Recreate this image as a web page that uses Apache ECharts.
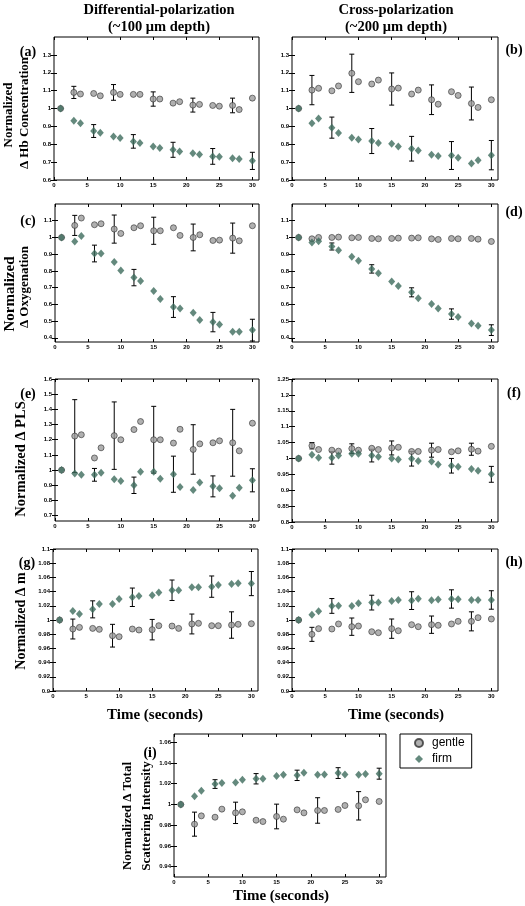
<!DOCTYPE html>
<html><head><meta charset="utf-8">
<script src="https://cdn.jsdelivr.net/npm/echarts@6/dist/echarts.min.js"></script>
<style>html,body{margin:0;padding:0;background:#fff}#c{width:525px;height:906px}</style>
</head><body><div id="c"></div>
<script>
// ---------- data ----------
const timeSec = [1,3,4,6,7,9,10,12,13,15,16,18,19,21,22,24,25,27,28,30];
const errTimeGentle = [3,9,15,21,27];
const errTimeFirm = [6,12,18,24,30];
const xTicks = [0,5,10,15,20,25,30];

// (a) Differential-polarization, Hb concentration
const gentleA = [1.0,1.09,1.081,1.084,1.071,1.09,1.079,1.079,1.079,1.053,1.053,1.03,1.038,1.019,1.023,1.017,1.013,1.017,0.994,1.058];
const firmA = [1.0,0.931,0.917,0.874,0.865,0.844,0.835,0.816,0.807,0.788,0.779,0.769,0.76,0.749,0.743,0.732,0.73,0.722,0.717,0.707];
const errGentleA = [0.034,0.044,0.04,0.039,0.041];
const errFirmA = [0.036,0.038,0.042,0.044,0.048];
// (b) Cross-polarization, Hb concentration
const gentleB = [1.0,1.103,1.113,1.099,1.126,1.197,1.15,1.137,1.159,1.109,1.114,1.081,1.103,1.049,1.024,1.094,1.073,1.028,1.006,1.049];
const firmB = [1.0,0.917,0.944,0.893,0.863,0.837,0.826,0.818,0.807,0.803,0.788,0.775,0.765,0.741,0.734,0.737,0.724,0.692,0.711,0.739];
const errGentleB = [0.082,0.107,0.09,0.083,0.092];
const errFirmB = [0.059,0.07,0.069,0.078,0.082];
// (c) Differential-polarization, oxygenation
const gentleC = [1.0,1.072,1.116,1.076,1.082,1.05,1.024,1.058,1.07,1.04,1.04,1.058,1.012,1.0,1.016,0.982,0.984,0.996,0.98,1.07];
const firmC = [1.0,0.976,1.008,0.904,0.904,0.854,0.802,0.76,0.74,0.68,0.632,0.584,0.576,0.55,0.506,0.494,0.48,0.436,0.436,0.446];
const errGentleC = [0.06,0.084,0.081,0.08,0.09];
const errFirmC = [0.05,0.049,0.062,0.058,0.065];
// (d) Cross-polarization, oxygenation
const gentleD = [1.0,0.992,1.0,1.0,1.002,0.998,1.0,0.994,0.992,0.994,0.996,0.996,0.998,0.992,0.988,0.994,0.992,0.994,0.99,0.976];
const firmD = [1.0,0.97,0.978,0.946,0.924,0.884,0.86,0.812,0.786,0.736,0.71,0.672,0.636,0.602,0.576,0.542,0.524,0.486,0.472,0.446];
const errGentleD = [];
const errFirmD = [0.021,0.025,0.027,0.031,0.032];
// (e) Differential-polarization, PLS
const gentleE = [1.0,1.224,1.233,1.08,1.147,1.227,1.2,1.267,1.32,1.2,1.2,1.178,1.269,1.136,1.173,1.18,1.193,1.18,1.127,1.309];
const firmE = [1.0,0.978,0.969,0.969,0.982,0.94,0.929,0.9,0.989,0.989,0.944,0.973,0.889,0.869,0.918,0.893,0.88,0.831,0.884,0.933];
const errGentleE = [0.24,0.222,0.22,0.163,0.22];
const errFirmE = [0.042,0.054,0.119,0.069,0.076];
// (f) Cross-polarization, PLS
const gentleF = [1.0,1.04,1.028,1.026,1.023,1.031,1.026,1.032,1.028,1.033,1.035,1.022,1.022,1.026,1.028,1.021,1.024,1.029,1.023,1.038];
const firmF = [1.0,1.012,1.002,1.002,1.009,1.015,1.015,1.009,1.005,1.0,0.997,0.999,0.992,0.99,0.981,0.977,0.974,0.967,0.961,0.95];
const errGentleF = [0.01,0.015,0.022,0.022,0.019];
const errFirmF = [0.02,0.02,0.023,0.023,0.025];
// (g) Differential-polarization, m
const gentleG = [1.0,0.9873,0.9896,0.9882,0.9868,0.9779,0.9765,0.9873,0.9859,0.9864,0.992,0.9915,0.9882,0.9944,0.9953,0.992,0.992,0.9929,0.9939,0.9948];
const firmG = [1.0,1.0127,1.0085,1.015,1.0226,1.0226,1.0296,1.032,1.0339,1.0348,1.0386,1.0419,1.0419,1.0461,1.0461,1.047,1.0494,1.0508,1.0518,1.0513];
const errGentleG = [0.014,0.016,0.0144,0.014,0.0186];
const errFirmG = [0.012,0.013,0.0144,0.015,0.017];
// (h) Cross-polarization, m
const gentleH = [1.0,0.9798,0.9878,0.9873,0.9944,0.9906,0.9915,0.9835,0.9821,0.9878,0.9849,0.9934,0.9906,0.9934,0.9925,0.9944,0.9981,0.9981,1.0033,1.0014];
const firmH = [1.0,1.0075,1.0122,1.0198,1.0202,1.0198,1.0235,1.0245,1.0245,1.0268,1.0282,1.0273,1.0301,1.0278,1.0287,1.0296,1.0292,1.0282,1.0282,1.0282];
const errGentleH = [0.0099,0.0122,0.0136,0.0122,0.0134];
const errFirmH = [0.0104,0.0104,0.0125,0.0129,0.013];
// (i) Total scattering intensity
const gentleI = [1.0,0.981,0.989,0.9877,0.9955,0.9919,0.9929,0.9848,0.9835,0.9884,0.9858,0.9948,0.9919,0.9942,0.9942,0.9952,0.999,0.9987,1.0045,1.0029];
const firmI = [1.0,1.008,1.0132,1.0197,1.0206,1.0213,1.0239,1.0248,1.0248,1.0274,1.0287,1.0281,1.0306,1.0287,1.029,1.0303,1.029,1.0287,1.0294,1.0297];
const errGentleI = [0.0116,0.0103,0.0119,0.0123,0.0137];
const errFirmI = [0.0042,0.005,0.005,0.0052,0.0053];

const yTicksAB = [0.6,0.7,0.8,0.9,1,1.1,1.2,1.3];
const yTicksCD = [0.4,0.5,0.6,0.7,0.8,0.9,1,1.1];
const yTicksE = [0.7,0.8,0.9,1,1.1,1.2,1.3,1.4,1.5,1.6];
const yTicksF = [0.8,0.85,0.9,0.95,1,1.05,1.1,1.15,1.2,1.25];
const yTicksGH = [0.9,0.92,0.94,0.96,0.98,1,1.02,1.04,1.06,1.08,1.1];
const yTicksI = [0.94,0.96,0.98,1,1.02,1.04,1.06];

// ---------- layout ----------
const panels = [
  {left:54, top:37, width:205, height:143, min:0.6, max:1.4, ticks:yTicksAB, g:gentleA, f:firmA, eg:errGentleA, ef:errFirmA},
  {left:292, top:37, width:206, height:143, min:0.6, max:1.4, ticks:yTicksAB, g:gentleB, f:firmB, eg:errGentleB, ef:errFirmB},
  {left:55, top:204, width:204, height:138, min:0.375, max:1.2, ticks:yTicksCD, g:gentleC, f:firmC, eg:errGentleC, ef:errFirmC},
  {left:292, top:204, width:206, height:138, min:0.375, max:1.2, ticks:yTicksCD, g:gentleD, f:firmD, eg:errGentleD, ef:errFirmD},
  {left:55, top:379, width:204, height:142, min:0.665, max:1.6, ticks:yTicksE, g:gentleE, f:firmE, eg:errGentleE, ef:errFirmE},
  {left:292, top:379, width:206, height:143, min:0.8, max:1.25, ticks:yTicksF, g:gentleF, f:firmF, eg:errGentleF, ef:errFirmF},
  {left:53, top:549, width:205, height:142, min:0.9, max:1.1, ticks:yTicksGH, g:gentleG, f:firmG, eg:errGentleG, ef:errFirmG},
  {left:292, top:549, width:206, height:142, min:0.9, max:1.1, ticks:yTicksGH, g:gentleH, f:firmH, eg:errGentleH, ef:errFirmH},
  {left:174, top:734, width:212, height:143, min:0.93, max:1.068, ticks:yTicksI, g:gentleI, f:firmI, eg:errGentleI, ef:errFirmI}
];

const GRAY = '#9c9c9c', GREEN = '#3d6b5c';
const fmt = v => String(parseFloat(Number(v).toFixed(3)));
const tickStyle = {show:true, inside:true, length:3, lineStyle:{color:'#000', width:1}};
const labelFont = {fontSize:6, fontFamily:'Liberation Sans', fontWeight:'bold', color:'#000'};

function errData(times, errs, vals){
  return times.slice(0, errs.length).map((t,i) => [t, vals[timeSec.indexOf(t)], errs[i]]);
}
function renderErr(params, api){
  const x = api.value(0), y = api.value(1), e = api.value(2);
  const p1 = api.coord([x, y + e]), p2 = api.coord([x, y - e]);
  const c = 2.5, st = {stroke:'#000', lineWidth:1};
  return {type:'group', children:[
    {type:'line', shape:{x1:p1[0], y1:p1[1], x2:p2[0], y2:p2[1]}, style:st},
    {type:'line', shape:{x1:p1[0]-c, y1:p1[1], x2:p1[0]+c, y2:p1[1]}, style:st},
    {type:'line', shape:{x1:p2[0]-c, y1:p2[1], x2:p2[0]+c, y2:p2[1]}, style:st}
  ]};
}

const grid = [], xAxis = [], yAxis = [], series = [];
panels.forEach((p, i) => {
  grid.push({left:p.left, top:p.top, width:p.width, height:p.height, show:true, borderColor:'#000', borderWidth:1, backgroundColor:'transparent'});
  xAxis.push({type:'value', gridIndex:i, min:0, max:31, position:'bottom', axisLine:{show:false}, splitLine:{show:false},
    axisTick:Object.assign({customValues:xTicks}, tickStyle),
    axisLabel:Object.assign({customValues:xTicks, margin:2, formatter:fmt}, labelFont)});
  xAxis.push({type:'value', gridIndex:i, min:0, max:31, position:'top', axisLine:{show:false}, splitLine:{show:false},
    axisTick:Object.assign({customValues:xTicks}, tickStyle), axisLabel:{show:false}});
  yAxis.push({type:'value', gridIndex:i, min:p.min, max:p.max, position:'left', axisLine:{show:false}, splitLine:{show:false},
    axisTick:Object.assign({customValues:p.ticks}, tickStyle),
    axisLabel:Object.assign({customValues:p.ticks, margin:3, formatter:fmt}, labelFont)});
  yAxis.push({type:'value', gridIndex:i, min:p.min, max:p.max, position:'right', axisLine:{show:false}, splitLine:{show:false},
    axisTick:Object.assign({customValues:p.ticks}, tickStyle), axisLabel:{show:false}});
  const xi = i*2, yi = i*2;
  if (p.eg.length) series.push({type:'custom', xAxisIndex:xi, yAxisIndex:yi, renderItem:renderErr, data:errData(errTimeGentle, p.eg, p.g), encode:{x:0, y:[1]}, z:1, silent:true});
  series.push({type:'custom', xAxisIndex:xi, yAxisIndex:yi, renderItem:renderErr, data:errData(errTimeFirm, p.ef, p.f), encode:{x:0, y:[1]}, z:1, silent:true});
  series.push({name:'gentle', type:'scatter', xAxisIndex:xi, yAxisIndex:yi, symbol:'circle', symbolSize:6, z:2,
    itemStyle:{color:GRAY, borderColor:'#333', borderWidth:0.8}, data:timeSec.map((t,k)=>[t, p.g[k]])});
  series.push({name:'firm', type:'scatter', xAxisIndex:xi, yAxisIndex:yi, symbol:'diamond', symbolSize:[7,8], z:3,
    itemStyle:{color:GREEN}, data:timeSec.map((t,k)=>[t, p.f[k]])});
});

const serif = 'Liberation Serif';
function txt(x, y, s, size, rot){
  return {type:'text', x:x, y:y, rotation:rot||0, silent:true,
    style:{text:s, fontFamily:serif, fontWeight:'bold', fontSize:size, fill:'#000', textAlign:'center', textVerticalAlign:'middle'}};
}
const R = Math.PI/2;
const graphic = [
  txt(159, 10, 'Differential-polarization', 14.5),
  txt(159, 27, '(~100 μm depth)', 14.5),
  txt(396, 10, 'Cross-polarization', 14.5),
  txt(396, 27, '(~200 μm depth)', 14.5),
  txt(28, 52, '(a)', 14), txt(514, 50, '(b)', 14),
  txt(28, 221, '(c)', 14), txt(514, 212, '(d)', 14),
  txt(28, 394, '(e)', 14), txt(514, 393, '(f)', 14),
  txt(27, 563, '(g)', 14), txt(514, 562, '(h)', 14),
  txt(150, 753, '(i)', 14),
  txt(9, 115, 'Normalized', 13, R), txt(25, 113, 'Δ Hb Concentration', 13, R),
  txt(10, 294, 'Normalized', 15, R), txt(25, 287, 'Δ Oxygenation', 13, R),
  txt(21, 459, 'Normalized Δ PLS', 14.5, R),
  txt(21, 621, 'Normalized Δ m', 14, R),
  txt(128, 816, 'Normalized Δ Total', 13, R), txt(147, 816, 'Scattering Intensity', 13, R),
  txt(155, 715, 'Time (seconds)', 15), txt(396, 715, 'Time (seconds)', 15),
  txt(281, 896, 'Time (seconds)', 15)
];

const chart = echarts.init(document.getElementById('c'), null, {renderer:'canvas'});
chart.setOption({
  animation:false,
  backgroundColor:'#fff',
  grid, xAxis, yAxis, series, graphic,
  legend:{data:[{name:'gentle', icon:'circle'},{name:'firm', icon:'diamond'}], orient:'vertical', left:400, top:734,
    itemWidth:8, itemHeight:8, itemGap:4, padding:[3,7,3,14], borderColor:'#000', borderWidth:1, selectedMode:false,
    textStyle:{fontFamily:'Liberation Sans', fontSize:12, color:'#000', padding:[0,0,0,4]}}
});
</script></body></html>
